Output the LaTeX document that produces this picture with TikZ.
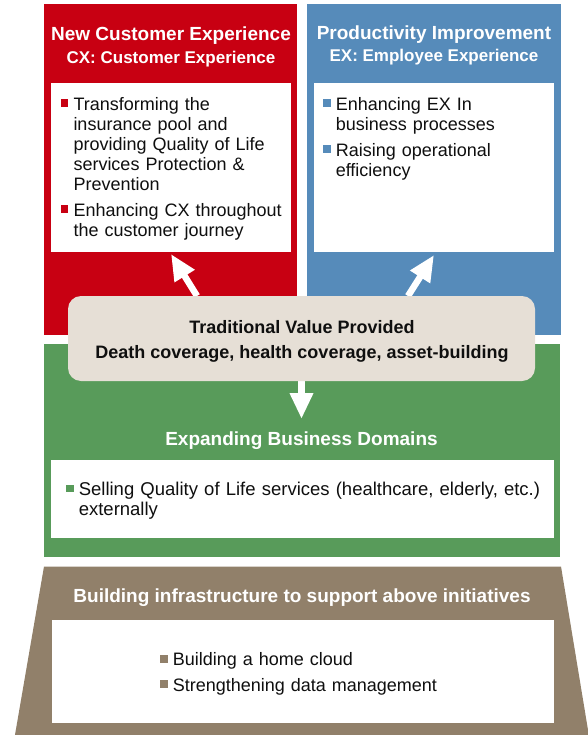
\documentclass[tikz,border=0pt]{standalone}
\usepackage{fontspec}
\setmainfont{Liberation Sans}
\usetikzlibrary{arrows.meta}
\definecolor{cxred}{RGB}{200,0,18}
\definecolor{exblue}{RGB}{86,139,186}
\definecolor{bdgreen}{RGB}{88,155,90}
\definecolor{infbrown}{RGB}{145,128,106}
\definecolor{tvbeige}{RGB}{230,223,214}
\definecolor{txtgray}{RGB}{15,15,15}
\pgfdeclarelayer{bg}
\pgfdeclarelayer{arrowlayer}
\pgfsetlayers{bg,arrowlayer,main}
\newcommand\nl{\hfil\break}
\newcommand\bitem[2]{\noindent\hangindent=12.6pt\hangafter=1\strut\makebox[12.6pt][l]{\textcolor{#1}{\raisebox{3.3pt}{\rule{7.5pt}{7.5pt}}}}#2\strut\par}
\tikzset{
  panel/.style={inner sep=0pt, outer sep=0pt, draw=none},
  whitebox/.style={panel, fill=white},
  ttl/.style={inner sep=0pt, text=white, font=\bfseries\fontsize{19}{20}\selectfont},
  subttl/.style={inner sep=0pt, text=white, font=\bfseries\fontsize{17}{18}\selectfont},
  bullets/.style={inner sep=0pt, anchor=north west, align=left, text=txtgray, font=\fontsize{18}{20}\selectfont},
  tvtext/.style={inner sep=0pt, text=txtgray, font=\bfseries\fontsize{18}{20}\selectfont},
  warrow/.style={draw=white, line width=6.5pt, -{Triangle[length=26pt,width=22pt]}},
}
\begin{document}
\begin{tikzpicture}[x=1pt,y=-1pt]
\useasboundingbox (0,0) rectangle (588,735);
\begin{pgfonlayer}{bg}
  % top panels
  \node[panel, fill=cxred, minimum width=253pt, minimum height=331pt] (red) at (170.5,169.5) {};
  \node[panel, fill=exblue, minimum width=254pt, minimum height=331pt] (blue) at (434,169.5) {};
  \node[whitebox, minimum width=240pt, minimum height=169pt] (redin) at (171,167.5) {};
  \node[whitebox, minimum width=240pt, minimum height=169pt] (bluein) at (434,167.5) {};
  % green panel
  \node[panel, fill=bdgreen, minimum width=516pt, minimum height=212.5pt] (green) at (301.5,450.25) {};
  \node[whitebox, minimum width=503pt, minimum height=78pt] (greenin) at (302.5,499) {};
  % brown trapezoid
  \coordinate (btl) at (44,566.5);
  \coordinate (btr) at (561,566.5);
  \coordinate (bbr) at (589,736);
  \coordinate (bbl) at (14.8,736);
  \fill[infbrown] (btl) -- (btr) -- (bbr) -- (bbl) -- cycle;
  \node[whitebox, minimum width=502.3pt, minimum height=102.7pt] (brownin) at (302.85,671.35) {};
\end{pgfonlayer}

% traditional value box
\node[panel, fill=tvbeige, rounded corners=13pt, minimum width=467pt, minimum height=85pt] (tv) at (301.5,338.5) {};
\node[tvtext, anchor=base] (tv1) at (302,333.3) {Traditional Value Provided};
\node[tvtext, anchor=base] (tv2) at (302,358.3) {Death coverage, health coverage, asset-building};

\begin{pgfonlayer}{arrowlayer}
  \draw[warrow] ([xshift=-104.5pt]tv.north) -- ([yshift=-2pt]redin.south);
  \draw[warrow] ([xshift=106.5pt]tv.north) -- ([yshift=-3pt]bluein.south);
  \draw[warrow] (tv.south) -- ([yshift=-38pt]tv.south);
\end{pgfonlayer}

% titles
\node[ttl, anchor=base] (redt1) at (171,41) {New Customer Experience};
\node[subttl, anchor=base] (redt2) at (171,64) {CX: Customer Experience};
\node[ttl, anchor=base] (bluet1) at (434,39.5) {Productivity Improvement};
\node[subttl, anchor=base] (bluet2) at (434,62) {EX: Employee Experience};
\node[ttl, anchor=base] (greent) at (301.5,445) {Expanding Business Domains};
\node[ttl, anchor=base] (brownt) at (302,602.7) {Building infrastructure to support above initiatives};

% bullets
\node[bullets, text width=228pt] (redb) at (60.7,96) {%
  \bitem{cxred}{Transforming the\nl insurance pool and\nl providing Quality of Life\nl services Protection \&\nl Prevention}%
  \vspace{6pt}%
  \bitem{cxred}{Enhancing CX throughout\nl the customer journey}};
\node[bullets, text width=228pt] (blueb) at (323,96) {%
  \bitem{exblue}{Enhancing EX In\nl business processes}%
  \vspace{6pt}%
  \bitem{exblue}{Raising operational\nl efficiency}};
\node[bullets, text width=485pt, font=\fontsize{18.5}{19}\selectfont] (greenb) at (66,482) {%
  \bitem{bdgreen}{Selling Quality of Life services (healthcare, elderly, etc.)\nl externally}};
\node[bullets, text width=380pt] (brownb) at (160,651.7) {%
  \bitem{infbrown}{Building a home cloud}%
  \vspace{5.3pt}%
  \bitem{infbrown}{Strengthening data management}};
\end{tikzpicture}
\end{document}
